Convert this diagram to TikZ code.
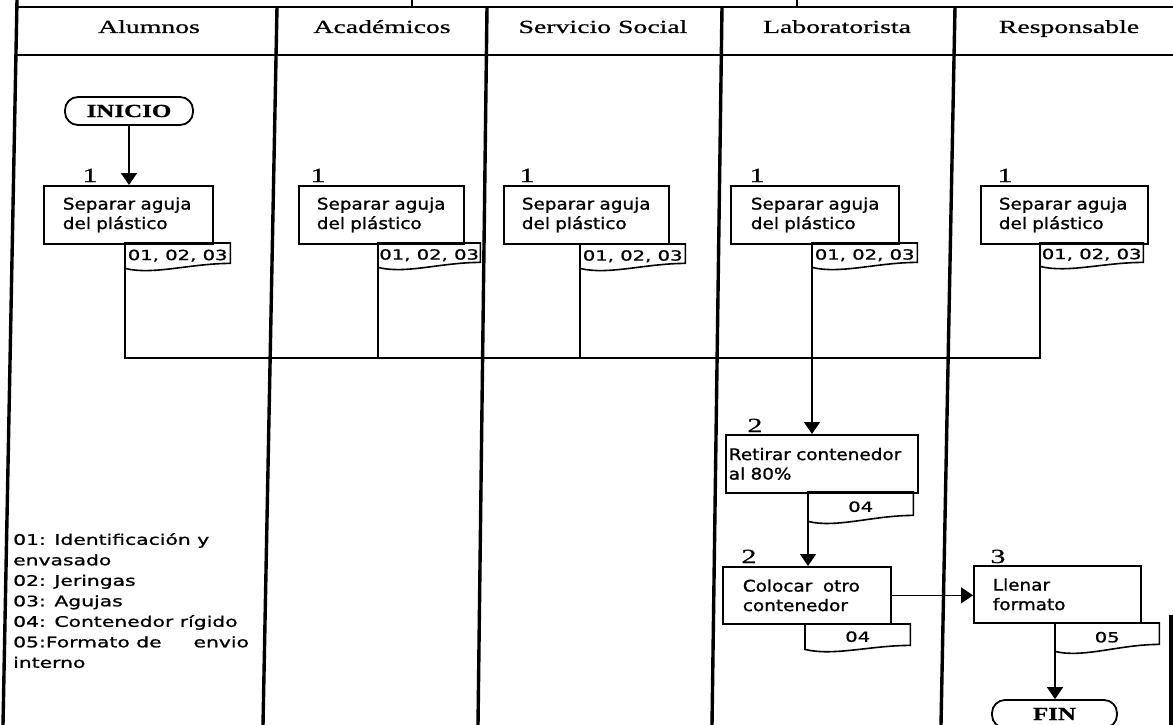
\documentclass[tikz,border=0pt]{standalone}
\usepackage{fontspec}
\usetikzlibrary{arrows.meta}
\newfontfamily\hdrfont{Liberation Serif}[FakeStretch=1.5,FakeBold=0.8]
\newfontfamily\boxfont{DejaVu Sans}[FakeStretch=1.15,FakeBold=1.2]
\newfontfamily\codefont{DejaVu Sans}[FakeStretch=1.4,FakeBold=1]
\newfontfamily\termfont{Liberation Serif}[FakeStretch=1.35,FakeBold=0.8]

% outline of a document tag: straight top and sides, wavy bottom
\newcommand\tagoutline[2]{%
  \draw[flow] (#1.north west) -- (#1.north east) -- ([yshift=#2pt]#1.south east)
    .. controls +(-40pt,0pt) and +(28pt,-7pt) .. (#1.south west) -- cycle;}

\begin{document}
\begin{tikzpicture}[x=1pt,y=-1pt,
  every node/.style={inner sep=0pt},
  lane/.style={line width=3.4pt},
  rowrule/.style={line width=2.6pt},
  lanehead/.style={font=\hdrfont\fontsize{18.5}{20}\selectfont, anchor=base},
  stepnum/.style={font=\hdrfont\fontsize{20}{22}\selectfont, anchor=base},
  stepbox/.style n args={3}{draw, line width=1.7pt, anchor=north west,
    minimum height=#3pt, text width=#1pt, inner xsep=#2pt, align=left,
    font=\boxfont\fontsize{16}{19.5}\selectfont},
  doctag/.style 2 args={anchor=north west, minimum width=#1pt, minimum height=#2pt,
    font=\codefont\fontsize{14}{16}\selectfont},
  terminal/.style={draw, line width=1.8pt, rounded corners=13pt, minimum width=128pt,
    minimum height=28pt, font=\termfont\bfseries\fontsize{18.5}{20}\selectfont},
  flow/.style={line width=1.6pt},
  arrow/.style={flow, -{Triangle[length=12pt,width=16pt]}},
  legend/.style={anchor=north west, align=left, font=\codefont\fontsize{14.5}{20.5}\selectfont}
]
\fill[white] (0,0) rectangle (1173,725);
\useasboundingbox (0,0) rectangle (1173,725);

% swim lanes and header row
\draw[lane] (17,0) -- (3,725);
\draw[lane] (277,7) -- (263,725);
\draw[lane] (487,7) -- (478,725);
\draw[lane] (722,7) -- (712,725);
\draw[lane] (955,7) -- (941,725);
\draw[lane] (1171,615) -- (1171,725);
\draw[rowrule] (16,7) -- (1173,7);
\draw[rowrule] (15,55) -- (1173,55);
\draw[line width=1.7pt] (412,0) -- (412,7);
\draw[line width=1.7pt] (797,0) -- (797,7);

\node[lanehead] (hA) at (149,33) {Alumnos};
\node[lanehead] (hB) at (382,33) {Académicos};
\node[lanehead] (hC) at (603,33) {Servicio Social};
\node[lanehead] (hD) at (837,33) {Laboratorista};
\node[lanehead] (hE) at (1069,33) {Responsable};

% start
\node[terminal] (ini) at (129,111) {INICIO};

% step 1 in every lane
\node[stepbox={131}{19}{58}] (bA) at (43,185) {\mbox{Separar aguja}\\\mbox{del plástico}};
\node[stepbox={129}{18}{58}] (bB) at (298,185) {\mbox{Separar aguja}\\\mbox{del plástico}};
\node[stepbox={129}{18}{58}] (bC) at (503,185) {\mbox{Separar aguja}\\\mbox{del plástico}};
\node[stepbox={128}{20}{58}] (bD) at (730,185) {\mbox{Separar aguja}\\\mbox{del plástico}};
\node[stepbox={131}{18}{58}] (bE) at (980,185) {\mbox{Separar aguja}\\\mbox{del plástico}};

\node[stepnum] (nA) at (90,182) {1};
\node[stepnum] (nB) at (318,182) {1};
\node[stepnum] (nC) at (527,182) {1};
\node[stepnum] (nD) at (757,182) {1};
\node[stepnum] (nE) at (1005,182) {1};

\node[doctag={105}{25}] (tA) at (125,243) {01, 02, 03};
\node[doctag={102}{24}] (tB) at (378,243) {01, 02, 03};
\node[doctag={105}{24}] (tC) at (580,244) {01, 02, 03};
\node[doctag={105}{24}] (tD) at (812,243) {01, 02, 03};
\node[doctag={103}{23}] (tE) at (1040,243) {01, 02, 03};
\tagoutline{tA}{5}
\tagoutline{tB}{5}
\tagoutline{tC}{5}
\tagoutline{tD}{5}
\tagoutline{tE}{4}

% steps 2 and 3
\node[stepbox={186}{3}{58}] (b2) at (725,434) {\mbox{Retirar contenedor}\\\mbox{al 80\%}};
\node[stepbox={128}{20}{57}] (b3) at (722,566) {\mbox{Colocar\ \ otro}\\\mbox{contenedor}};
\node[stepbox={129}{19}{57}] (b4) at (973,565) {\mbox{Llenar}\\\mbox{formato}};

\node[stepnum] (n2) at (755,432) {2};
\node[stepnum] (n3) at (749,563) {2};
\node[stepnum] (n4) at (998,563) {3};

\node[doctag={105}{29}] (tF) at (808,492) {04};
\node[doctag={105}{25}] (tG) at (805,624) {04};
\node[doctag={104}{28}] (tH) at (1055,623) {05};
\tagoutline{tF}{6}
\tagoutline{tG}{4}
\tagoutline{tH}{7}

% end
\node[terminal, minimum width=125pt] (fin) at (1054.5,714) {FIN};

% connectors
\coordinate (bus) at (0,358);
\draw[arrow] (ini.south) -- (ini.south |- bA.north);
\draw[flow] (tA.north west) |- (bus -| tE.north west) -- (tE.north west);
\draw[flow] (tB.north west) -- (tB.north west |- bus);
\draw[flow] (tC.north west) -- (tC.north west |- bus);
\draw[arrow] (tD.north west) -- (tD.north west |- b2.north);
\draw[arrow] (tF.north west) -- (tF.north west |- b3.north);
\draw[arrow] (b3.east) -- (b3.east -| b4.west);
\draw[arrow] (tH.north west) -- (tH.north west |- fin.north);

% key to the document codes
\node[legend] (key) at (13,533) {01: Identificación y\\envasado\\02: Jeringas\\03: Agujas\\04: Contenedor rígido\\05:Formato de\hspace{2.2em}envio\\interno};
\end{tikzpicture}
\end{document}
